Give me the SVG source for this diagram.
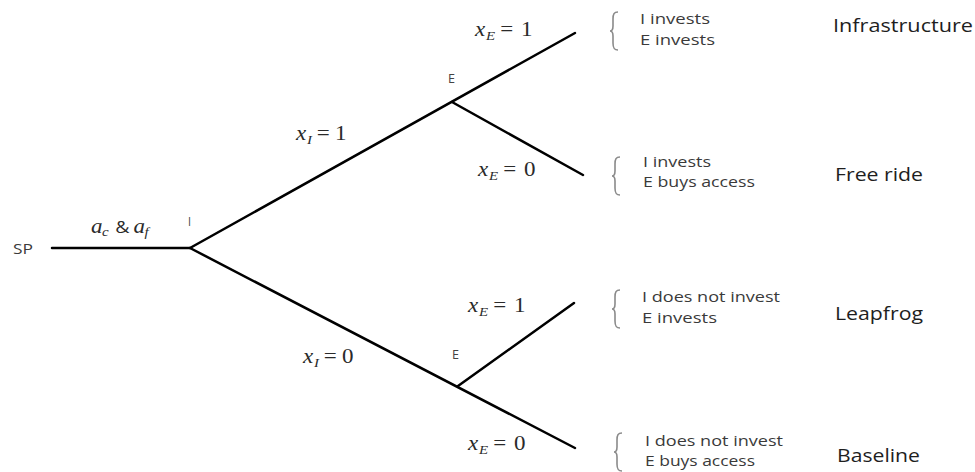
<svg xmlns="http://www.w3.org/2000/svg" width="975" height="472" viewBox="0 0 975 472">
<style>
.t{font-family:"Open Sans","Noto Sans",sans-serif;fill:#333}
.s{font-size:14px;fill:#3a3a3a}
.b{font-size:18px;fill:#1e1e1e}
.n{font-size:12.5px;fill:#444}
.m{font-family:"Liberation Serif","DejaVu Serif",serif;font-style:italic;fill:#2a2a2a}
.mu{font-family:"Liberation Serif","DejaVu Serif",serif;font-style:normal;fill:#2a2a2a}
.e{fill:none;stroke:#000;stroke-width:2.5;stroke-linecap:round}
.br{fill:none;stroke:#8a8a8a;stroke-width:1.6}
</style>
<defs>
<path id="brace" d="M8,0 C4,0 3,2 3,7 L3,14 C3,17 2,19 0,19 C2,19 3,21 3,24 L3,31 C3,36 4,38 8,38"/>
</defs>
<rect width="975" height="472" fill="#fff"/>
<g id="connectors">
<line class="e" x1="52" y1="248" x2="190" y2="248"/>
<line class="e" x1="190" y1="248" x2="575" y2="33"/>
<line class="e" x1="452" y1="102" x2="583" y2="175"/>
<line class="e" x1="190" y1="248" x2="575" y2="448"/>
<line class="e" x1="458" y1="386" x2="574" y2="303"/>
</g>
<g id="node-SP"><text class="t s" x="13" y="254" textLength="20" lengthAdjust="spacingAndGlyphs">SP</text></g>
<g id="label-a">
<g transform="translate(91,233) scale(1.15,1)">
<text class="m" font-size="20"><tspan x="0">a</tspan><tspan x="9.5" dy="3" font-size="13">c</tspan><tspan x="21" dy="-3" font-family="Open Sans,sans-serif" font-style="normal" font-size="17">&amp;</tspan><tspan x="37">a</tspan><tspan x="46.5" dy="3" font-size="13">f</tspan></text>
</g>
</g>
<g id="node-I"><text class="t n" x="188" y="226" textLength="3" lengthAdjust="spacingAndGlyphs">I</text></g>
<g id="node-E1"><text class="t n" x="448" y="83" textLength="7" lengthAdjust="spacingAndGlyphs">E</text></g>
<g id="node-E2"><text class="t n" x="452" y="359" textLength="7" lengthAdjust="spacingAndGlyphs">E</text></g>
<g id="label-xI1" transform="translate(296,140) scale(1.15,1)">
<text class="m" font-size="20"><tspan x="0">x</tspan><tspan x="9.5" dy="4" font-size="13">I</tspan><tspan class="mu" x="18" dy="-4">=</tspan><tspan class="mu" x="34">1</tspan></text>
</g>
<g id="label-xI0" transform="translate(303,363) scale(1.15,1)">
<text class="m" font-size="20"><tspan x="0">x</tspan><tspan x="9.5" dy="4" font-size="13">I</tspan><tspan class="mu" x="18" dy="-4">=</tspan><tspan class="mu" x="34">0</tspan></text>
</g>
<g id="label-xE1a" transform="translate(475,36) scale(1.15,1)">
<text class="m" font-size="20"><tspan x="0">x</tspan><tspan x="9.5" dy="4" font-size="13">E</tspan><tspan class="mu" x="22" dy="-4">=</tspan><tspan class="mu" x="40">1</tspan></text>
</g>
<g id="label-xE0a" transform="translate(478,176) scale(1.15,1)">
<text class="m" font-size="20"><tspan x="0">x</tspan><tspan x="9.5" dy="4" font-size="13">E</tspan><tspan class="mu" x="22" dy="-4">=</tspan><tspan class="mu" x="40">0</tspan></text>
</g>
<g id="label-xE1b" transform="translate(468,312) scale(1.15,1)">
<text class="m" font-size="20"><tspan x="0">x</tspan><tspan x="9.5" dy="4" font-size="13">E</tspan><tspan class="mu" x="22" dy="-4">=</tspan><tspan class="mu" x="40">1</tspan></text>
</g>
<g id="label-xE0b" transform="translate(468,450) scale(1.15,1)">
<text class="m" font-size="20"><tspan x="0">x</tspan><tspan x="9.5" dy="4" font-size="13">E</tspan><tspan class="mu" x="22" dy="-4">=</tspan><tspan class="mu" x="40">0</tspan></text>
</g>
<g id="outcome-infrastructure">
<use href="#brace" class="br" transform="translate(610,12)"/>
<text class="t s" x="640" y="24" textLength="70" lengthAdjust="spacingAndGlyphs">I invests</text>
<text class="t s" x="640" y="45" textLength="75" lengthAdjust="spacingAndGlyphs">E invests</text>
<text class="t b" x="833" y="32" textLength="140" lengthAdjust="spacingAndGlyphs">Infrastructure</text>
</g>
<g id="outcome-freeride">
<use href="#brace" class="br" transform="translate(612,157)"/>
<text class="t s" x="643" y="167" textLength="68" lengthAdjust="spacingAndGlyphs">I invests</text>
<text class="t s" x="643" y="187" textLength="112" lengthAdjust="spacingAndGlyphs">E buys access</text>
<text class="t b" x="835" y="181" textLength="88" lengthAdjust="spacingAndGlyphs">Free ride</text>
</g>
<g id="outcome-leapfrog">
<use href="#brace" class="br" transform="translate(612,290)"/>
<text class="t s" x="642" y="302" textLength="138" lengthAdjust="spacingAndGlyphs">I does not invest</text>
<text class="t s" x="642" y="323" textLength="75" lengthAdjust="spacingAndGlyphs">E invests</text>
<text class="t b" x="835" y="320" textLength="88" lengthAdjust="spacingAndGlyphs">Leapfrog</text>
</g>
<g id="outcome-baseline">
<use href="#brace" class="br" transform="translate(614,433)"/>
<text class="t s" x="645" y="446" textLength="138" lengthAdjust="spacingAndGlyphs">I does not invest</text>
<text class="t s" x="645" y="466" textLength="110" lengthAdjust="spacingAndGlyphs">E buys access</text>
<text class="t b" x="837" y="462" textLength="83" lengthAdjust="spacingAndGlyphs">Baseline</text>
</g>
</svg>
